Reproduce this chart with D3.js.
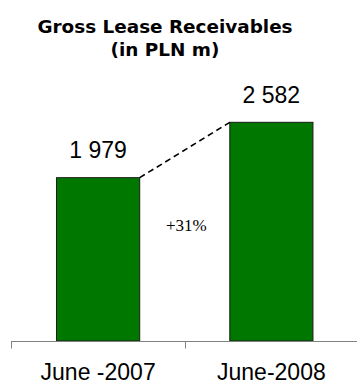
<!DOCTYPE html>
<html>
<head>
<meta charset="utf-8">
<script src="https://cdn.jsdelivr.net/npm/d3@7"></script>
<style>
  html, body { margin: 0; padding: 0; background: #fff; }
  svg { display: block; }
</style>
</head>
<body>
<svg id="chart" width="357" height="385"></svg>
<script>
// Gross lease receivables, PLN m
const categories = ["June -2007", "June-2008"];
const values = [1979, 2582];
const valueLabels = ["1 979", "2 582"];
const growthLabel = "+31%";
const titleLines = ["Gross Lease Receivables", "(in PLN m)"];

const W = 357, H = 385;
const svg = d3.select("#chart");

const baseY = 341;

const x = d3.scaleBand()
  .domain(categories)
  .range([11.5, 358])
  .paddingInner(0.52)
  .paddingOuter(0.26);

const y = d3.scaleLinear()
  .domain([200, 2800])
  .range([baseY, 102.3]);

// title
const title = svg.append("text")
  .attr("text-anchor", "middle")
  .attr("font-family", "'DejaVu Sans', Verdana, sans-serif")
  .attr("font-weight", "bold")
  .attr("font-size", 18.4)
  .attr("fill", "#000");
title.selectAll("tspan").data(titleLines).join("tspan")
  .attr("x", 165)
  .attr("y", (d, i) => 33.3 + i * 22.7)
  .text(d => d);

// bars
svg.append("g").selectAll("rect").data(values).join("rect")
  .attr("x", (d, i) => x(categories[i]))
  .attr("width", x.bandwidth())
  .attr("y", d => y(d))
  .attr("height", d => baseY - y(d))
  .attr("fill", "#007800")
  .attr("stroke", "#1a1a1a")
  .attr("stroke-width", 1);

// value labels
svg.append("g").selectAll("text").data(values).join("text")
  .attr("x", (d, i) => x(categories[i]) + x.bandwidth() / 2)
  .attr("y", d => y(d) - 19.5)
  .attr("text-anchor", "middle")
  .attr("font-family", "'Liberation Sans', Arial, sans-serif")
  .attr("font-size", 23)
  .attr("fill", "#000")
  .text((d, i) => valueLabels[i]);

// dashed connector between bar tops
svg.append("line")
  .attr("x1", x(categories[0]) + x.bandwidth())
  .attr("y1", y(values[0]))
  .attr("x2", x(categories[1]))
  .attr("y2", y(values[1]))
  .attr("stroke", "#000")
  .attr("stroke-width", 1.6)
  .attr("stroke-dasharray", "6,4");

// growth label
const boundary = x(categories[1]) - x.step() * x.paddingInner() / 2;
svg.append("text")
  .attr("x", boundary + 1.5)
  .attr("y", 230.7)
  .attr("text-anchor", "middle")
  .attr("font-family", "'Liberation Serif', 'Times New Roman', serif")
  .attr("font-size", 17)
  .attr("fill", "#000")
  .text(growthLabel);

// category axis with ticks at band edges
const axis = svg.append("g").attr("stroke", "#808080").attr("stroke-width", 1);
axis.append("line")
  .attr("x1", x.range()[0]).attr("x2", x.range()[1])
  .attr("y1", baseY + 0.5).attr("y2", baseY + 0.5);
const edges = categories.map(c => x(c) - x.step() * x.paddingInner() / 2);
axis.selectAll("line.tick").data(edges).join("line")
  .attr("class", "tick")
  .attr("x1", d => Math.round(d) + 0.5).attr("x2", d => Math.round(d) + 0.5)
  .attr("y1", baseY).attr("y2", baseY + 7.5);

svg.append("g").selectAll("text").data(categories).join("text")
  .attr("x", d => x(d) + x.bandwidth() / 2)
  .attr("y", 380)
  .attr("text-anchor", "middle")
  .attr("font-family", "'Liberation Sans', Arial, sans-serif")
  .attr("font-size", 23)
  .attr("fill", "#000")
  .text(d => d);
</script>
</body>
</html>
